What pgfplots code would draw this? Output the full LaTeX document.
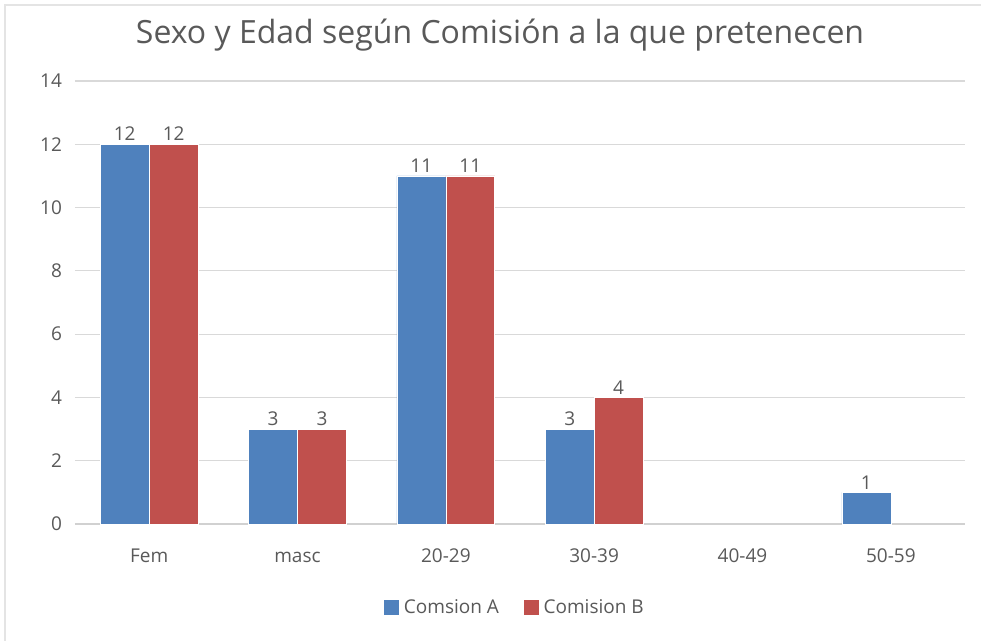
\documentclass[border=0pt]{standalone}
\usepackage{fontspec}
\setmainfont{Open Sans}
\usepackage{pgfplots}
\pgfplotsset{compat=1.18}
\definecolor{serA}{HTML}{4F81BD}
\definecolor{serB}{HTML}{C0504D}
\definecolor{txt}{HTML}{595959}
\definecolor{gridc}{HTML}{D9D9D9}

\begin{document}
\begin{tikzpicture}[x=0.5pt,y=0.5pt]
% chart area, 981 x 641 px at 0.5pt per px
\path[use as bounding box] (0,0) rectangle (981,641);
\draw[gridc!70, line width=0.6pt] (5,0) -- (5,636) -- (981,636);
\node[text=txt, font=\fontsize{16}{19}\selectfont] at (500,606) {Sexo y Edad según Comisión a la que pretenecen};
\begin{axis}[
  at={(75pt*0.5,117pt*0.5)}, anchor=south west,
  scale only axis,
  width=445pt, height=221.5pt,
  ybar=0pt,
  bar width=0.33,
  xmin=-0.5, xmax=5.5,
  ymin=0, ymax=14,
  ytick={0,2,...,14},
  xtick={0,...,5},
  xticklabels={Fem, masc, 20-29, 30-39, 40-49, 50-59},
  axis x line*=bottom,
  axis y line*=left,
  y axis line style={draw=none},
  x axis line style={draw=gridc!120, line width=0.8pt},
  xtick style={draw=none},
  ytick style={draw=none},
  ymajorgrids,
  grid style={gridc, line width=0.6pt},
  tick label style={font=\fontsize{9.5}{11}\selectfont, text=txt},
  /pgf/number format/assume math mode=true,
  xticklabel style={yshift=-3pt, text height=1.6ex, text depth=0.3ex},
  yticklabel style={xshift=-3pt},
  nodes near coords,
  nodes near coords style={font=\fontsize{9.5}{11}\selectfont, text=txt, anchor=south, inner sep=1.5pt},
  legend style={at={(0.495,-0.19)}, anchor=center, draw=none, legend columns=2,
    font=\fontsize{9.5}{11}\selectfont, text=txt,
    /tikz/every even column/.append style={column sep=10pt}},
  legend image code/.code={\fill[#1] (0pt,-3.5pt) rectangle (8pt,4.5pt);},
  clip=false,
]
\addplot[fill=serA, draw=white, line width=0.3pt] coordinates {(0,12) (1,3) (2,11) (3,3) (5,1)};
\addplot[fill=serB, draw=white, line width=0.3pt] coordinates {(0,12) (1,3) (2,11) (3,4)};
\legend{Comsion A, Comision B}
\end{axis}
\end{tikzpicture}
\end{document}
